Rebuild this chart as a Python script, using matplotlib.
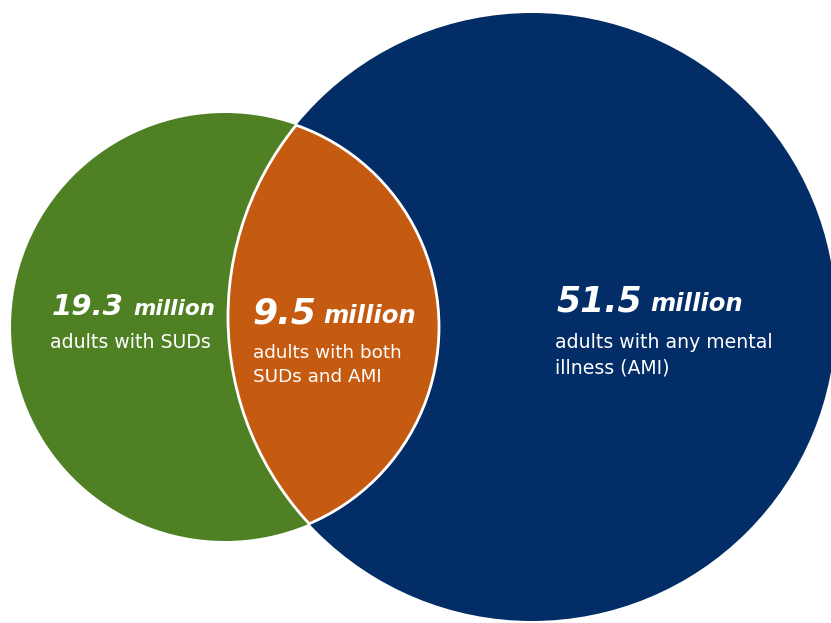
import matplotlib
matplotlib.use("Agg")
import matplotlib.pyplot as plt
from matplotlib.patches import Circle

# ---- data ----
values = ["19.3", "9.5", "51.5"]
unit = "million"
descriptions = [["adults with SUDs"],
                ["adults with both", "SUDs and AMI"],
                ["adults with any mental", "illness (AMI)"]]
colors = ["#4F8124", "#C55A11", "#022D66"]

W, H = 831, 623
fig = plt.figure(figsize=(W / 100, H / 100), dpi=100)
ax = fig.add_axes([0, 0, 1, 1])
ax.set_xlim(0, W)
ax.set_ylim(H, 0)
ax.set_aspect("equal")
ax.axis("off")

# circle geometry (pixels)
g_c, g_r = (225, 327), 214
b_c, b_r = (532, 317), 304

ax.add_patch(Circle(g_c, g_r, facecolor=colors[0], edgecolor="none", zorder=1))
ax.add_patch(Circle(b_c, b_r, facecolor=colors[2], edgecolor="none", zorder=1))

lens = Circle(g_c, g_r, facecolor=colors[1], edgecolor="none", zorder=2)
ax.add_patch(lens)
lens.set_clip_path(Circle(b_c, b_r, transform=ax.transData))
e1 = Circle(g_c, g_r, facecolor="none", edgecolor="white", lw=2.0, zorder=3)
ax.add_patch(e1)
e1.set_clip_path(Circle(b_c, b_r + 1, transform=ax.transData))
e2 = Circle(b_c, b_r, facecolor="none", edgecolor="white", lw=2.0, zorder=3)
ax.add_patch(e2)
e2.set_clip_path(Circle(g_c, g_r + 1, transform=ax.transData))

fam = ["DejaVu Sans"]
renderer = fig.canvas.get_renderer()

def label(x, y, num, numsize, unitsize, gap, desc, descsize, desc_ys, dx=-2):
    t = ax.text(x, y, num, color="white", fontsize=numsize, fontweight="bold",
                fontstyle="italic", family=fam, va="baseline", ha="left", zorder=5)
    bb = t.get_window_extent(renderer=renderer)
    x2 = ax.transData.inverted().transform((bb.x1, 0))[0] + gap
    ax.text(x2, y, unit, color="white", fontsize=unitsize, fontweight="bold",
            fontstyle="italic", family=fam, va="baseline", ha="left", zorder=5)
    for line, yy in zip(desc, desc_ys):
        ax.text(x + dx, yy, line, color="white", fontsize=descsize, family=fam,
                va="baseline", ha="left", zorder=5)

label(52, 315, values[0], 21, 15.5, 9, descriptions[0], 13.6, [348])
label(253, 323, values[1], 26, 17.5, 6, descriptions[1], 13.2, [358, 382], dx=0)
label(557, 311, values[2], 25, 17.5, 8, descriptions[2], 13.6, [348, 373])

fig.savefig("out.png", dpi=100, facecolor="white")
